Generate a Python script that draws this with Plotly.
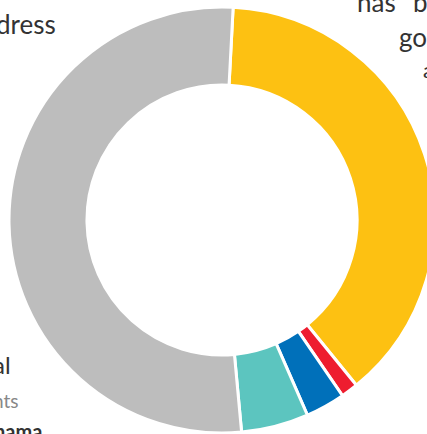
import plotly.graph_objects as go

# Slice data (clockwise from just right of 12 o'clock)
categories = ["Yellow", "Red", "Blue", "Teal", "Gray"]
values = [38.3, 1.3, 3.0, 5.1, 52.3]
colors = ["#FDC112", "#EE1D2F", "#0070BA", "#5CC5BF", "#BDBDBD"]

# Visible (cropped) label fragments around the chart
label_texts = ["dress", "has", "b", "go", "a", "al", "nts", "hama"]

W, H = 444, 434

def px(x):
    return x / W

def py(y):
    return 1 - y / H

fig = go.Figure(
    go.Pie(
        labels=categories,
        values=values,
        hole=0.634,
        sort=False,
        direction="clockwise",
        rotation=3,
        marker=dict(colors=colors, line=dict(color="white", width=3)),
        textinfo="none",
        hoverinfo="label+value",
        showlegend=False,
        domain=dict(x=[9 / W, 435 / W], y=[1 / H, 427 / H]),
    )
)

dark = "#333333"
font_main = "Lato"
ann_specs = [
    # text, x px, y px (middle), xanchor, size, color, bold
    (label_texts[0], 58, 24, "right", 26, dark, False),
    (label_texts[1], 398, 2, "right", 26, dark, False),
    (label_texts[2], 411, 2, "left", 26, dark, False),
    (label_texts[3], 397, 37, "left", 26, dark, False),
    (label_texts[4], 421, 69, "left", 22, dark, False),
    (label_texts[5], 13, 364, "right", 24, dark, False),
    (label_texts[6], 21, 400, "right", 19, "#888888", False),
    (label_texts[7], 44, 431, "right", 20, dark, True),
]
for t, x, y, xa, size, col, bold in ann_specs:
    fig.add_annotation(
        text=f"<b>{t}</b>" if bold else t,
        x=px(x), y=py(y), xref="paper", yref="paper",
        xanchor=xa, yanchor="middle", showarrow=False,
        font=dict(family=font_main, size=size, color=col),
    )

fig.update_layout(
    width=W, height=H,
    margin=dict(l=0, r=0, t=0, b=0),
    paper_bgcolor="white",
    plot_bgcolor="white",
)

fig.write_html(
    "out.html",
    config={"displayModeBar": False},
    post_script="document.body.style.margin='0';document.body.style.overflow='hidden';",
)
